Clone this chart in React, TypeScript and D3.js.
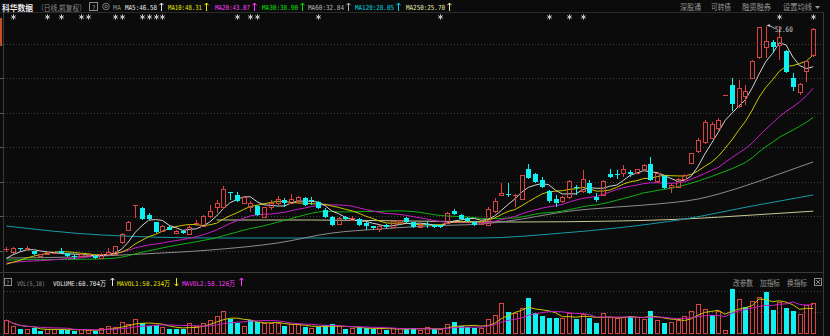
import React from "react";
import * as d3 from "d3";

const W = 830;
const H = 336;

// ---- data ----
const opens = [
  20.2, 19.64, 20.3, 20.2, 19.93, 19.06, 19.35, 19.5, 19.95, 19.64,
  19.25, 19.06, 19.2, 19.2, 18.91, 19.35, 19.35, 21.09, 22.97, 26.52,
  26.16, 25.14, 24.13, 22.82, 23.4, 22.53, 22.82, 22.39, 23.9, 23.55,
  25.0, 26.16, 26.16, 28.48, 28.04, 26.88, 26.16, 26.45, 24.85, 26.16,
  26.74, 27.32, 26.88, 27.03, 27.61, 27.35, 27.03, 25.87, 24.85, 23.84,
  24.85, 24.42, 24.56, 23.98, 23.55, 23.11, 23.69, 23.4, 23.98, 24.71,
  24.13, 23.4, 23.9, 23.69, 23.65, 23.98, 25.72, 25.14, 24.71, 24.13,
  23.84, 23.69, 25.58, 28.04, 28.19, 27.9, 27.46, 31.81, 31.09, 30.22,
  28.62, 27.46, 27.03, 27.61, 29.25, 28.48, 29.78, 27.75, 28.04, 31.09,
  31.15, 31.23, 31.38, 31.23, 31.67, 32.54, 29.93, 30.8, 29.2, 29.2,
  30.36, 32.68, 34.28, 35.6, 36.3, 37.75, 42.4, 43.98, 40.8, 42.25,
  45.0, 47.9, 49.49, 50.22, 49.78, 48.91, 45.0, 42.83, 45.87, 48.19,
];
const closes = [
  20.25, 20.36, 20.15, 20.35, 19.49, 19.35, 19.64, 19.7, 19.65, 19.2,
  19.18, 19.35, 19.4, 18.91, 19.49, 19.78, 20.51, 22.25, 24.13, 26.54,
  24.56, 24.5, 22.68, 23.55, 22.97, 22.82, 22.53, 23.4, 24.0, 25.0,
  25.72, 26.88, 28.77, 28.33, 27.17, 27.75, 26.88, 25.14, 26.16, 26.74,
  27.32, 26.88, 27.32, 27.61, 26.59, 27.3, 26.16, 24.85, 23.69, 24.71,
  24.56, 24.71, 23.69, 23.55, 23.26, 23.55, 23.4, 24.27, 24.35, 24.13,
  23.4, 23.69, 23.8, 23.4, 23.45, 25.43, 25.29, 24.56, 24.27, 23.69,
  24.13, 25.87, 27.03, 28.33, 28.04, 28.1, 30.8, 30.51, 29.93, 29.2,
  27.17, 26.88, 27.75, 30.07, 29.15, 30.22, 28.33, 27.32, 30.07, 30.65,
  31.05, 31.67, 31.09, 31.67, 32.39, 30.22, 31.09, 29.06, 29.49, 30.36,
  30.94, 33.99, 36.01, 38.48, 38.3, 38.91, 42.5, 41.23, 43.55, 43.11,
  47.46, 52.39, 50.36, 49.49, 50.8, 45.87, 43.7, 44.13, 47.32, 52.1,
];
const highs = [
  20.5, 20.5, 20.4, 20.6, 20.0, 19.45, 19.8, 19.85, 20.4, 19.7,
  19.5, 19.5, 19.5, 19.3, 19.6, 20.36, 20.6, 22.53, 24.3, 26.54,
  26.3, 25.5, 24.2, 23.7, 23.6, 23.0, 22.9, 23.84, 24.4, 25.2,
  26.59, 27.32, 29.35, 28.55, 28.48, 27.9, 27.17, 26.6, 26.3, 27.32,
  27.9, 27.61, 28.19, 27.9, 27.7, 27.75, 27.17, 26.16, 24.95, 24.85,
  24.95, 25.0, 24.7, 24.1, 23.6, 23.7, 23.8, 24.4, 24.42, 24.85,
  24.2, 23.84, 24.27, 23.8, 23.75, 25.6, 26.01, 25.3, 24.85, 24.27,
  24.27, 26.3, 27.61, 29.78, 29.78, 28.19, 30.94, 32.54, 31.23, 30.65,
  28.77, 28.04, 27.9, 30.22, 29.49, 31.67, 30.22, 28.33, 30.22, 31.81,
  31.67, 32.39, 31.67, 31.81, 32.54, 33.55, 31.23, 30.94, 29.64, 30.5,
  31.09, 34.1, 36.3, 38.9, 38.6, 39.2, 42.55, 45.0, 44.71, 43.98,
  47.6, 52.45, 52.6, 50.51, 52.39, 49.06, 45.72, 44.27, 47.46, 52.25,
];
const lows = [
  19.8, 19.5, 20.0, 20.0, 19.4, 19.0, 19.3, 19.45, 19.6, 19.1,
  18.8, 19.0, 19.05, 18.8, 18.85, 19.3, 19.3, 20.9, 22.9, 24.71,
  24.4, 24.45, 22.5, 22.7, 22.9, 22.4, 22.4, 22.3, 23.5, 23.4,
  24.71, 25.43, 26.0, 27.32, 27.1, 26.8, 25.58, 25.0, 24.7, 25.87,
  26.6, 26.3, 26.7, 26.9, 26.45, 26.59, 26.0, 24.7, 23.55, 23.7,
  24.4, 24.3, 23.55, 22.97, 23.1, 22.68, 23.3, 23.3, 23.9, 24.0,
  23.3, 23.3, 23.26, 23.3, 23.3, 23.84, 25.14, 24.4, 24.13, 23.55,
  23.69, 23.55, 25.43, 27.9, 27.75, 26.3, 27.3, 30.36, 29.78, 29.06,
  26.88, 26.3, 26.9, 27.46, 28.04, 28.33, 28.19, 27.03, 27.9, 30.5,
  30.36, 30.65, 30.65, 31.1, 31.5, 30.1, 29.78, 28.9, 28.33, 29.06,
  30.22, 32.54, 34.1, 35.4, 36.1, 37.46, 42.35, 40.22, 40.6, 41.09,
  44.85, 47.75, 47.9, 48.62, 47.61, 45.72, 43.11, 42.54, 44.42, 48.05,
];
// volume, unit 万
const volumes = [
  26.6, 12.9, 7.6, 7.6, 9.6, 4.7, 7.6, 7.6, 7.6, 6.1,
  4.7, 7.6, 4.7, 4.7, 9.6, 12.9, 11.7, 21.0, 18.4, 28.0,
  19.8, 15.0, 16.4, 11.7, 8.8, 7.6, 7.6, 19.8, 12.9, 19.8,
  26.6, 33.3, 43.6, 28.0, 21.0, 14.3, 26.6, 23.1, 19.8, 19.8,
  19.8, 14.3, 16.4, 16.4, 12.3, 10.2, 12.3, 16.4, 18.4, 12.3,
  8.2, 8.2, 12.3, 10.2, 8.2, 8.2, 6.1, 10.2, 8.2, 8.2,
  10.2, 6.1, 10.8, 8.2, 7.2, 18.4, 23.1, 14.3, 12.3, 10.2,
  10.2, 28.6, 36.8, 60.7, 42.9, 40.9, 50.5, 71.0, 40.3, 34.8,
  30.7, 30.7, 30.7, 40.9, 28.6, 38.9, 30.7, 20.5, 40.9, 32.7,
  30.7, 32.7, 32.7, 32.7, 28.6, 45.6, 26.6, 20.5, 20.5, 26.6,
  33.3, 43.6, 59.3, 48.5, 36.8, 43.6, 4.1, 90.0, 68.9, 52.6,
  64.3, 72.5, 83.8, 47.0, 62.3, 50.5, 45.6, 37.1, 57.3, 60.704,
];
// closes before the first visible bar (oldest first)
const prevCloses = [
  19.8, 19.6, 19.3, 19.5, 19.4, 19.2, 19.4, 19.5, 19.3, 19.0,
  18.9, 18.7, 18.8, 18.5, 18.6, 18.4, 18.2, 18.0, 17.9, 18.0,
  17.6, 17.3, 17.0, 16.9, 17.2, 17.6, 18.2, 18.8, 19.4,
];
// long moving averages: [bar index, value]
const ma60Read: [number, number][] = [
  [0, 18.91], [10, 19.06], [20, 19.49], [30, 20.07], [40, 21.09], [48, 22.53],
  [55, 23.11], [62, 23.55], [70, 23.84], [76, 24.56], [82, 25.58], [90, 26.3],
  [96, 26.74], [102, 27.46], [108, 29.06], [114, 31.09], [119, 32.84],
];
const ma120Read: [number, number][] = [
  [0, 23.55], [14, 22.25], [31, 21.81], [50, 21.81], [70, 21.81], [82, 22.53],
  [90, 23.26], [100, 24.56], [110, 26.45], [119, 28.05],
];
const ma250Read: [number, number][] = [
  [31, 24.42], [45, 24.42], [60, 24.27], [75, 24.13], [90, 24.27], [100, 24.56],
  [110, 25.14], [119, 25.7],
];
const markerIdx = [1, 6, 8, 11, 12, 16, 17, 20, 21, 22, 23, 34, 36, 37, 46, 64, 80, 83, 85, 114, 119];
const priceGrid = [50, 45, 40, 35, 30, 25, 20];
const volGrid = [43, 86];

const maLabels = ["MA5:46.58", "MA10:48.31", "MA20:43.07", "MA30:38.90", "MA60:32.84", "MA120:28.05", "MA250:25.70"];
const maTextColors = ["#e6e6e6", "#e6e600", "#ff3cff", "#00e000", "#b4b4b4", "#00cfe0", "#e6e6a8"];
const maLineColors = ["#d2d2d2", "#c8c800", "#c81ec8", "#12b012", "#8c8c8c", "#1898aa", "#c8c896"];
const maLabelX = [125, 168, 215, 262, 308, 355, 406];
const maLabelW = [32, 34, 35, 36, 36, 39, 39];
const rightLinks = ["深股通", "可转债", "融资融券", "设置均线"];
const rightLinkX = [680, 711, 742, 783];
const rightLinkW = [21, 20, 29, 29];
const volTools = ["改参数", "加指标", "换指标"];
const volToolX = [733, 760, 787];
const volLabels = ["VOLUME:60.704万", "MAVOL1:50.234万", "MAVOL2:58.126万"];
const volLabelX = [53, 117, 182];
const volLabelColors = ["#e6e6e6", "#e6e600", "#ff3cff"];
const volArrowUp = [true, false, true];

const MONO = "'DejaVu Sans Mono', 'Liberation Mono', monospace";
const CJK = "'Noto Sans CJK SC', 'Noto Sans', sans-serif";
const RED = "#d84444";
const CYAN = "#10f0f0";

const N = closes.length;
const xBand = d3.scaleBand<number>().domain(d3.range(N)).range([3, 3 + N * 6.78]).paddingInner(0);
const cx = (i: number) => (xBand(i) as number) + xBand.bandwidth() / 2;
const y = d3.scaleLinear().domain([20, 50]).range([250.5, 43.5]);
const yv = d3.scaleLinear().domain([0, 86]).range([333, 291]);

function movingAvg(all: number[], n: number, offset: number) {
  return d3.range(N).map((i) => {
    const end = i + offset;
    const start = Math.max(0, end - n + 1);
    return d3.mean(all.slice(start, end + 1)) as number;
  });
}

const allCloses = prevCloses.concat(closes);
const ma5 = movingAvg(allCloses, 5, prevCloses.length);
const ma10 = movingAvg(allCloses, 10, prevCloses.length);
const ma20 = movingAvg(allCloses, 20, prevCloses.length);
const ma30 = movingAvg(allCloses, 30, prevCloses.length);
const mavol1 = movingAvg(volumes, 5, 0);
const mavol2 = movingAvg(volumes, 10, 0);

const lineArr = d3.line<number>().x((_, i) => cx(i)).y((v) => y(v));
const lineVol = d3.line<number>().x((_, i) => cx(i)).y((v) => yv(v));
const lineRead = d3.line<[number, number]>().x((d) => cx(d[0])).y((d) => y(d[1])).curve(d3.curveMonotoneX);

function Txt(p: { x: number; y: number; w?: number; fill: string; size?: number; family?: string; weight?: string; children: any }) {
  return (
    <text
      x={p.x}
      y={p.y}
      fill={p.fill}
      fontSize={p.size || 9}
      fontFamily={p.family || MONO}
      fontWeight={p.weight || "normal"}
      textLength={p.w}
      lengthAdjust={p.w ? "spacingAndGlyphs" : undefined}
    >
      {p.children}
    </text>
  );
}

function Arrow({ x, color, up, top, bottom }: { x: number; color: string; up: boolean; top: number; bottom: number }) {
  const tip = up ? top : bottom;
  const d = up ? 2.2 : -2.2;
  return (
    <path
      d={`M${x},${top} L${x},${bottom} M${x - 2},${tip + d} L${x},${tip} L${x + 2},${tip + d}`}
      stroke={color}
      strokeWidth={1}
      fill="none"
    />
  );
}

function Star({ x, yc }: { x: number; yc: number }) {
  const r = 2.6;
  const a = r * 0.87;
  const b = r * 0.5;
  return (
    <path
      d={`M${x},${yc - r} L${x},${yc + r} M${x - a},${yc - b} L${x + a},${yc + b} M${x - a},${yc + b} L${x + a},${yc - b}`}
      stroke="#c8c8c8"
      strokeWidth={1}
    />
  );
}

export default function App() {
  const maxI = d3.maxIndex(highs);
  const mx = cx(maxI);
  const my = y(highs[maxI]);

  return (
    <svg
      width={W}
      height={H}
      viewBox={`0 0 ${W} ${H}`}
      style={{ position: "absolute", left: 0, top: 0, background: "#0b0b0b" }}
    >
      <rect x={0} y={0} width={W} height={H} fill="#0b0b0b" />
      {/* frame lines */}
      <line x1={0} x2={824} y1={12.5} y2={12.5} stroke="#2a2a2a" />
      <line x1={3.5} x2={3.5} y1={12} y2={H} stroke="#3a3a3a" />
      <line x1={823.5} x2={823.5} y1={12} y2={H} stroke="#3a3a3a" />
      <line x1={0} x2={824} y1={272.5} y2={272.5} stroke="#3a3a3a" />
      <rect x={0} y={18} width={2} height={28} fill="#c8501e" />

      {/* price grid */}
      {priceGrid.map((p) => (
        <g key={p}>
          <line x1={4} x2={823} y1={Math.round(y(p)) + 0.5} y2={Math.round(y(p)) + 0.5} stroke="#3e3e3e" strokeDasharray="1,2" />
          <line x1={0} x2={3} y1={Math.round(y(p)) + 0.5} y2={Math.round(y(p)) + 0.5} stroke="#5a5a5a" />
        </g>
      ))}
      {/* volume grid */}
      {volGrid.map((v) => (
        <line key={v} x1={4} x2={823} y1={Math.round(yv(v)) + 0.5} y2={Math.round(yv(v)) + 0.5} stroke="#3e3e3e" strokeDasharray="1,2" />
      ))}

      {/* long MAs */}
      <path d={lineRead(ma250Read) || ""} stroke={maLineColors[6]} fill="none" strokeWidth={1} />
      <path d={lineRead(ma120Read) || ""} stroke={maLineColors[5]} fill="none" strokeWidth={1} />
      <path d={lineRead(ma60Read) || ""} stroke={maLineColors[4]} fill="none" strokeWidth={1} />
      <path d={lineArr(ma30) || ""} stroke={maLineColors[3]} fill="none" strokeWidth={1} />
      <path d={lineArr(ma20) || ""} stroke={maLineColors[2]} fill="none" strokeWidth={1} />
      <path d={lineArr(ma10) || ""} stroke={maLineColors[1]} fill="none" strokeWidth={1} />
      <path d={lineArr(ma5) || ""} stroke={maLineColors[0]} fill="none" strokeWidth={1} />

      {/* candles */}
      <g shapeRendering="crispEdges">
        {closes.map((c, i) => {
          const o = opens[i];
          const up = c >= o;
          const xc = Math.round(cx(i));
          const top = y(Math.max(o, c));
          const bot = y(Math.min(o, c));
          const hy = y(highs[i]);
          const ly = y(lows[i]);
          const bh = Math.max(1, bot - top);
          if (up) {
            return (
              <g key={i} stroke={RED} fill="none">
                <line x1={xc + 0.5} x2={xc + 0.5} y1={hy} y2={top} />
                <line x1={xc + 0.5} x2={xc + 0.5} y1={top + bh} y2={ly} />
                {bh <= 1.5 ? (
                  <line x1={xc - 2} x2={xc + 3} y1={top + 0.5} y2={top + 0.5} />
                ) : (
                  <rect x={xc - 1.5} y={top} width={4} height={bh} />
                )}
              </g>
            );
          }
          return (
            <g key={i}>
              <line x1={xc + 0.5} x2={xc + 0.5} y1={hy} y2={ly} stroke={CYAN} />
              <rect x={xc - 2} y={top} width={5} height={bh} fill={CYAN} />
            </g>
          );
        })}
      </g>

      {/* max marker */}
      <path d={`M${mx + 1},${my} L${mx + 4},${my - 1.5} L${mx + 4},${my + 1.5} Z`} fill="#d8d8d8" />
      <line x1={mx + 4} y1={my} x2={mx + 9} y2={my + 3} stroke="#bbbbbb" />
      <Txt x={mx + 9} y={my + 6.5} w={18} fill="#d0d0d0" size={7.5}>
        {highs[maxI].toFixed(2)}
      </Txt>

      {/* info markers */}
      {markerIdx.map((i) => (
        <Star key={i} x={Math.round(cx(i)) + 0.5} yc={17} />
      ))}

      {/* volume bars */}
      <g shapeRendering="crispEdges">
        {volumes.map((v, i) => {
          const prev = i === 0 ? prevCloses[prevCloses.length - 1] : closes[i - 1];
          const up = closes[i] >= prev;
          const xc = Math.round(cx(i));
          const top = yv(v);
          return up ? (
            <rect key={i} x={xc - 1.5} y={top} width={4} height={333 - top} fill="none" stroke={RED} />
          ) : (
            <rect key={i} x={xc - 2} y={top} width={5} height={333.5 - top} fill={CYAN} />
          );
        })}
      </g>
      <path d={lineVol(mavol1) || ""} stroke="#c8c800" fill="none" strokeWidth={1} />
      <path d={lineVol(mavol2) || ""} stroke="#c81ec8" fill="none" strokeWidth={1} />

      {/* header */}
      <Txt x={2} y={10.5} w={31} fill="#e8e8e8" size={8} family={CJK} weight="bold">科华数据</Txt>
      <Txt x={37} y={10.5} w={49} fill="#8a8a8a" size={7.5} family={CJK}>（日线,前复权）</Txt>
      <rect x={89.5} y={2.5} width={8} height={8} fill="none" stroke="#8a8a8a" />
      <Txt x={92} y={9.5} w={3.5} fill="#a0a0a0" size={6.5}>?</Txt>
      <circle cx={106} cy={6.5} r={3.3} fill="none" stroke="#7a7a7a" />
      <circle cx={106} cy={6.5} r={1.3} fill="none" stroke="#7a7a7a" />
      <Txt x={113} y={10} w={8} fill="#8a8a8a" size={7}>MA</Txt>
      {maLabels.map((t, k) => (
        <g key={t}>
          <Txt x={maLabelX[k]} y={10} w={maLabelW[k]} fill={maTextColors[k]} size={7}>{t}</Txt>
          <Arrow x={maLabelX[k] + maLabelW[k] + 4.5} color={maTextColors[k]} up={true} top={3} bottom={11} />
        </g>
      ))}
      {rightLinks.map((t, k) => (
        <Txt key={t} x={rightLinkX[k]} y={10} w={rightLinkW[k]} fill="#9a9a9a" size={7.5} family={CJK}>{t}</Txt>
      ))}
      <path d="M815,6 L820,6 L817.5,9 Z" fill="#9a9a9a" />

      {/* volume header */}
      <rect x={4.5} y={278.5} width={7} height={7} fill="none" stroke="#8a8a8a" />
      <Txt x={6.3} y={284.5} w={3} fill="#a0a0a0" size={6}>?</Txt>
      <Txt x={17} y={285.5} w={28} fill="#8a8a8a" size={6.5}>VOL(5,10)</Txt>
      {volLabels.map((t, k) => (
        <g key={t}>
          <Txt x={volLabelX[k]} y={285.5} w={53} fill={volLabelColors[k]} size={6.5} family={`${MONO}, ${CJK}`}>{t}</Txt>
          <Arrow x={volLabelX[k] + 59.5} color={volLabelColors[k]} up={volArrowUp[k]} top={278} bottom={286} />
        </g>
      ))}
      {volTools.map((t, k) => (
        <Txt key={t} x={volToolX[k]} y={285.5} w={20} fill="#9a9a9a" size={7.5} family={CJK}>{t}</Txt>
      ))}
      <rect x={814.5} y={278.5} width={7} height={7} fill="none" stroke="#8a8a8a" />
      <path d="M816,280 L820,284 M820,280 L816,284" stroke="#8a8a8a" />
    </svg>
  );
}
